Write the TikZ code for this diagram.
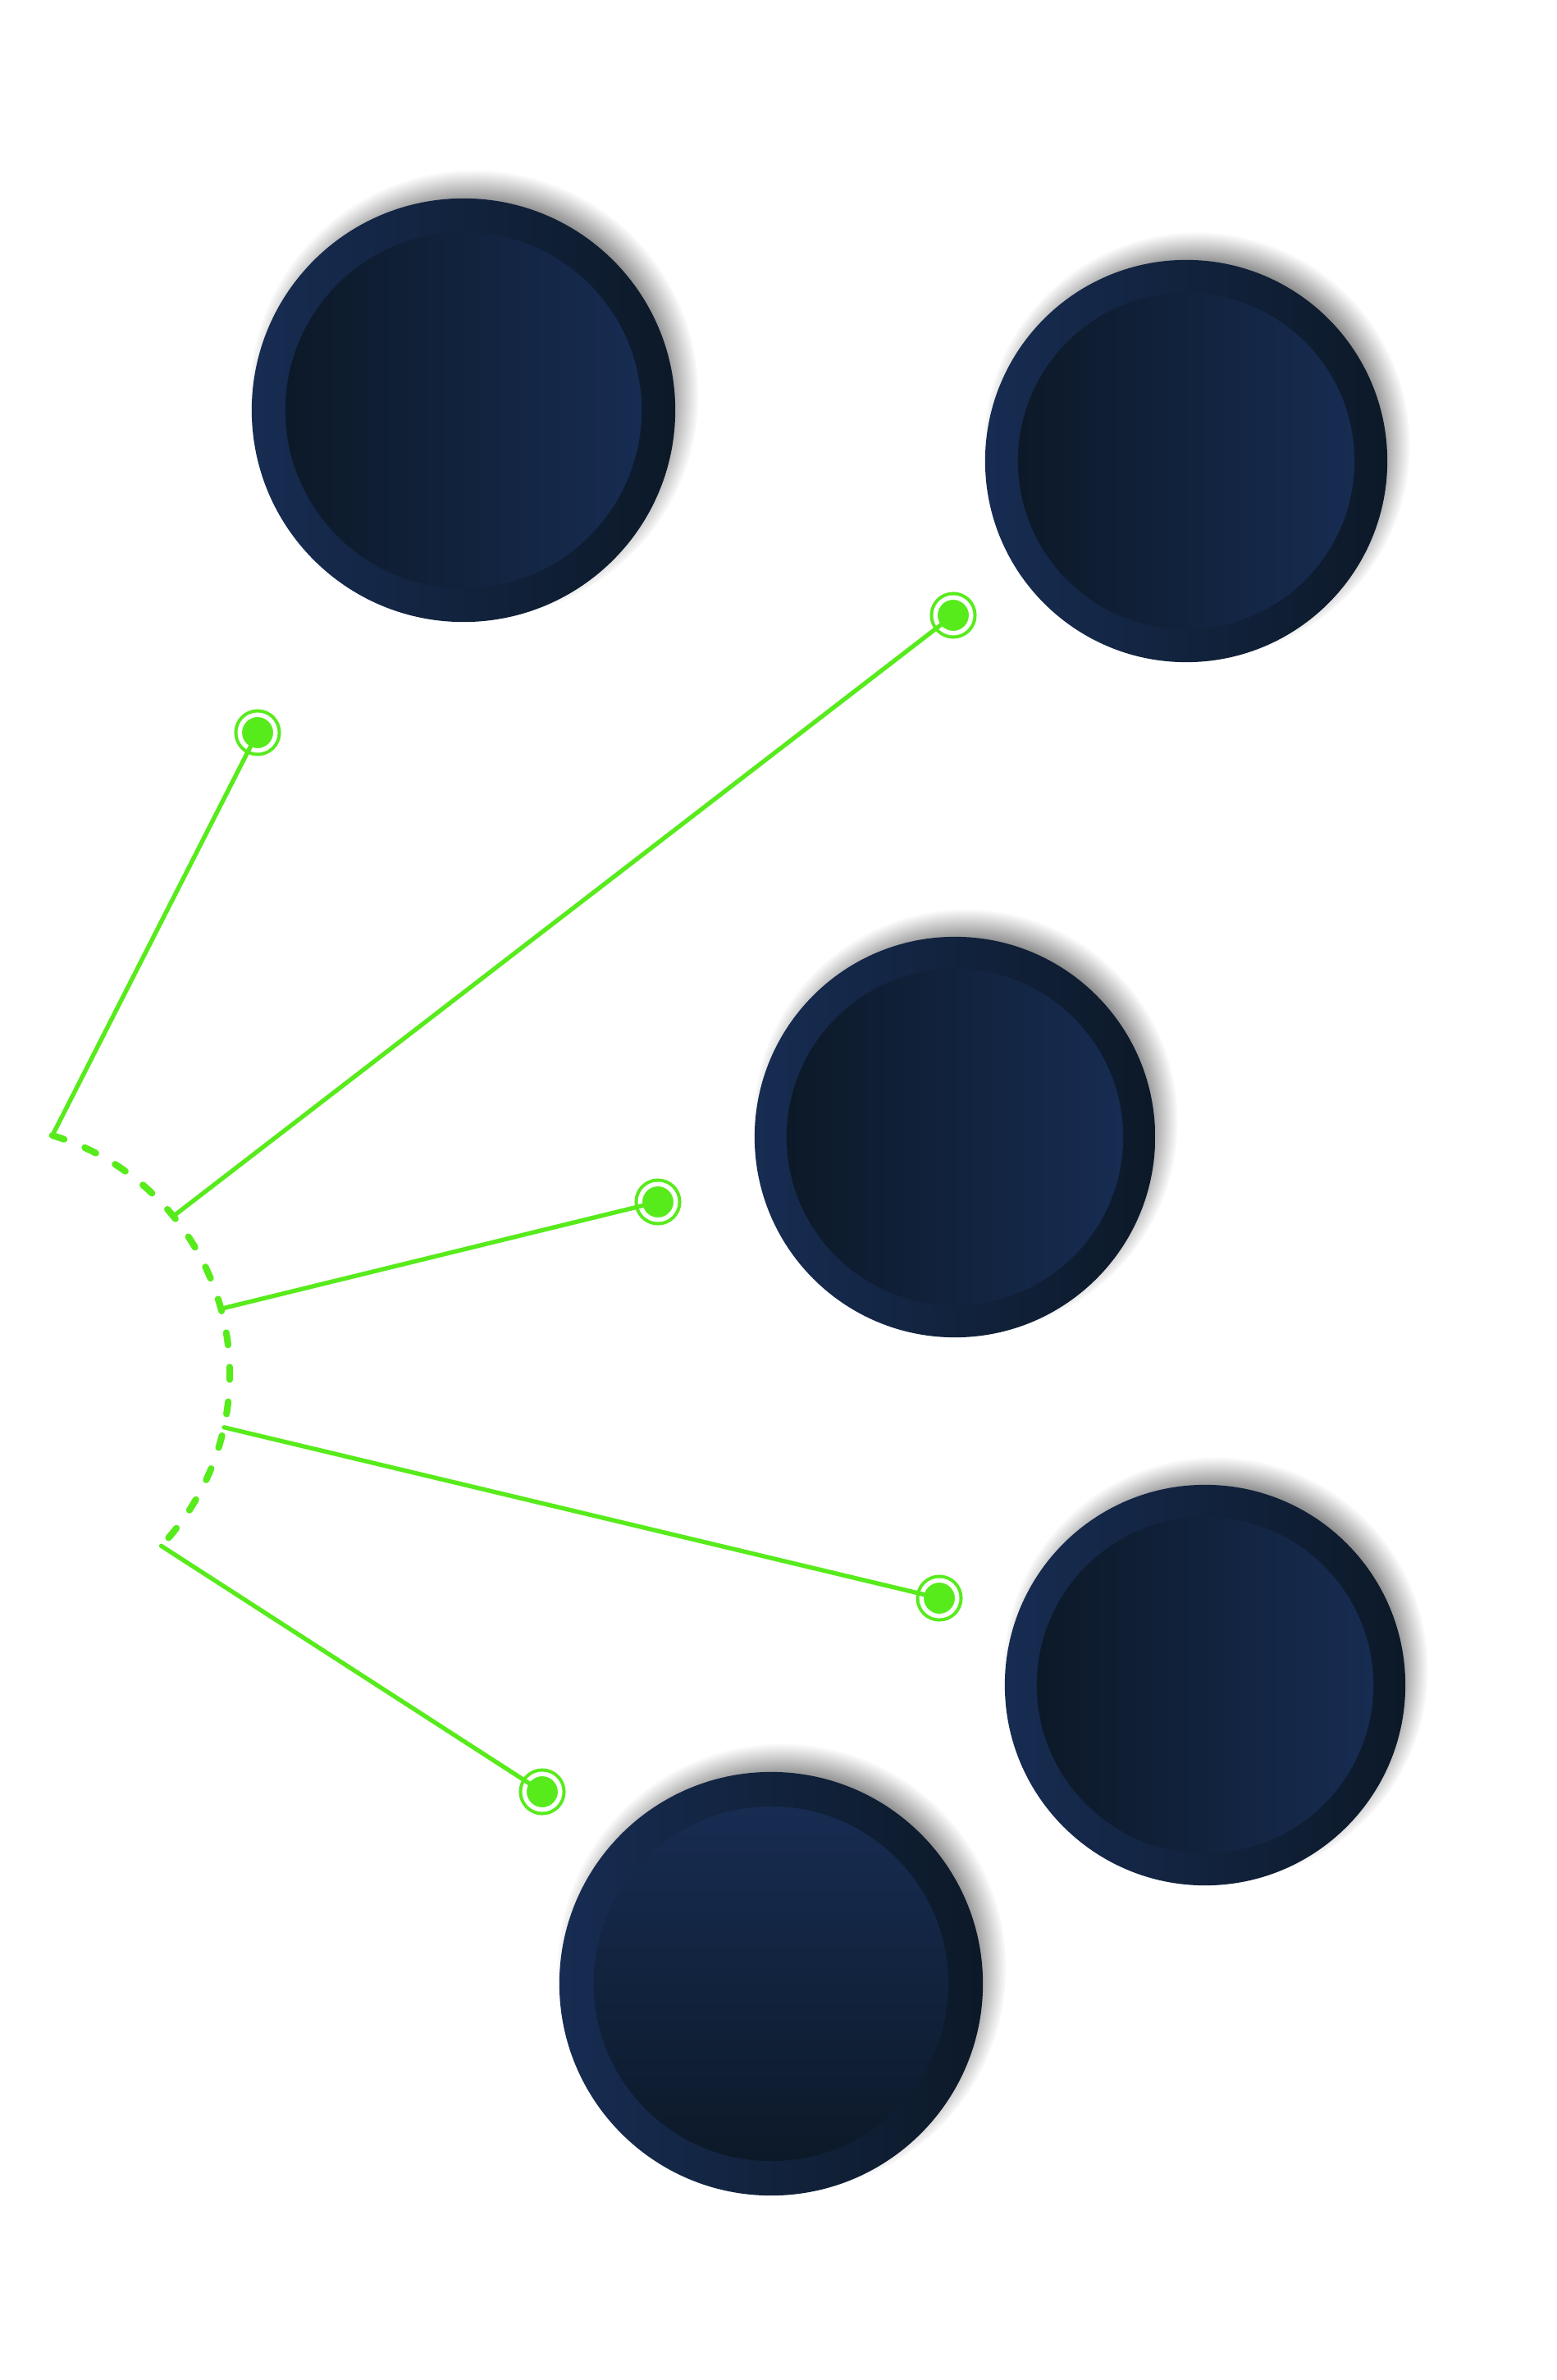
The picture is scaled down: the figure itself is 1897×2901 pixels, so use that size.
\documentclass[tikz,border=0pt]{standalone}
\usetikzlibrary{shadows,fadings}
\definecolor{NavyHi}{RGB}{23,44,82}
\definecolor{NavyLo}{RGB}{12,25,40}
\definecolor{Leaf}{RGB}{88,235,28}

\begin{document}
\begin{tikzpicture}[x=0.01cm, y=-0.01cm,
            disc/.style={circle, inner sep=0pt, left color=NavyHi, right color=NavyLo, circular drop shadow={shadow xshift=0.12cm, shadow yshift=0.18cm, shadow scale=1.06, fill=black, opacity=0.45}},
            core/.style={circle, inner sep=0pt, left color=NavyLo, right color=NavyHi},
            pin/.style={circle, inner sep=0pt, minimum size=0.435cm, fill=Leaf, draw=Leaf, line width=1.14pt, double=white, double distance=1.56pt},
            link/.style={draw=Leaf, line width=1.5pt, line cap=round},
            rim/.style={draw=Leaf, line width=2.3pt, line cap=round, dash pattern=on 4.3pt off 7.7pt}
        ]
            \useasboundingbox[fill=white] (0,0) rectangle (1897,2901);
            \node[disc, minimum size=5.16cm] (discA) at (565,500)   {};
            \node[core, minimum size=4.34cm] (coreA) at (discA)     {};
            \node[disc, minimum size=4.9cm]  (discB) at (1446,562)  {};
            \node[core, minimum size=4.1cm]  (coreB) at (discB)     {};
            \node[disc, minimum size=4.88cm] (discC) at (1164,1386) {};
            \node[core, minimum size=4.1cm]  (coreC) at (discC)     {};
            \node[disc, minimum size=4.88cm] (discD) at (1469,2054) {};
            \node[core, minimum size=4.1cm]  (coreD) at (discD)     {};
            \node[disc, minimum size=5.16cm] (discE) at (940,2418)  {};
            \node[core, minimum size=4.32cm, top color=NavyHi, bottom color=NavyLo] (coreE) at (discE) {};
            \coordinate (hub)  at (-24,1675);
            \coordinate (rimA) at ([shift={(hub)}]-73.2:304);
            \coordinate (rimB) at ([shift={(hub)}]-39.3:304);
            \coordinate (rimC) at ([shift={(hub)}]-15.2:304);
            \coordinate (rimD) at ([shift={(hub)}]12.3:304);
            \coordinate (rimE) at ([shift={(hub)}]43.5:304);
            \draw[rim] (rimA) arc[start angle=-73.2, end angle=43.5, radius=304];
            \node[pin] (pinA) at (314,893)   {};
            \node[pin] (pinB) at (1162,750)  {};
            \node[pin] (pinC) at (802,1465)  {};
            \node[pin] (pinD) at (1145,1948) {};
            \node[pin] (pinE) at (661,2184)  {};
            \draw[link] (rimA) -- (pinA.center);
            \draw[link] (rimB) -- (pinB.center);
            \draw[link] (rimC) -- (pinC.center);
            \draw[link] (rimD) -- (pinD.center);
            \draw[link] (rimE) -- (pinE.center);
        \end{tikzpicture}
\end{document}
